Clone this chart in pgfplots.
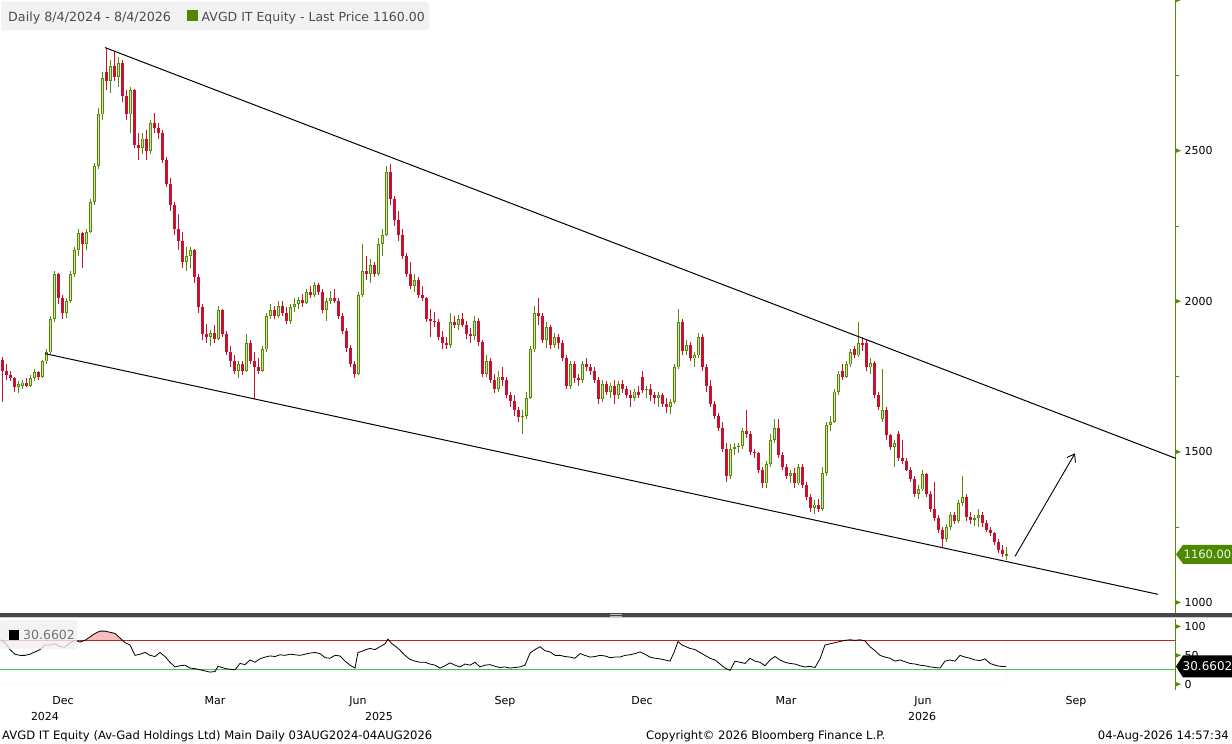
\documentclass[border=0pt]{standalone}
\usepackage{pgfplots}
\pgfplotsset{compat=1.18}
\usepackage{pgfplotstable}
\usepackage{fontspec}
\setmainfont{DejaVu Sans}
\usetikzlibrary{arrows.meta}
\definecolor{bbgreen}{RGB}{88,140,0}
\definecolor{bbred}{RGB}{196,18,48}
\definecolor{tagg}{RGB}{78,136,0}
\definecolor{rsired}{RGB}{200,30,30}
\definecolor{rsigreen}{RGB}{76,196,70}
\definecolor{bbpink}{RGB}{247,190,190}
\pgfplotstableread{
x o h l c
2 1805 1815 1665 1770
6 1770 1790 1740 1755
10 1755 1770 1735 1745
14 1745 1750 1700 1715
18 1715 1735 1695 1725
22 1720 1740 1710 1730
26 1730 1745 1715 1720
30 1720 1755 1715 1745
34 1745 1775 1735 1765
38 1765 1770 1740 1750
42 1750 1805 1745 1800
46 1800 1840 1790 1830
50 1830 1950 1825 1940
54 1940 2100 1930 2090
58 2090 2095 1990 2010
62 2010 2020 1940 1960
66 1960 2010 1945 2000
70 2000 2100 1995 2090
74 2090 2180 2080 2170
78 2170 2240 2150 2225
82 2225 2230 2110 2190
86 2190 2240 2170 2230
90 2230 2340 2225 2330
94 2330 2460 2320 2450
98 2450 2640 2440 2620
102 2620 2760 2600 2740
106 2760 2840 2700 2730
110 2730 2800 2690 2780
114 2780 2830 2730 2745
118 2745 2810 2710 2790
122 2790 2800 2660 2680
126 2680 2700 2600 2620
130 2620 2710 2560 2700
134 2700 2705 2510 2520
138 2520 2560 2470 2510
142 2510 2560 2490 2540
146 2540 2570 2470 2500
150 2500 2600 2490 2590
154 2590 2625 2560 2575
158 2575 2590 2540 2560
162 2560 2570 2460 2470
166 2470 2480 2380 2390
170 2390 2410 2300 2320
174 2320 2330 2220 2240
178 2240 2290 2170 2200
182 2200 2230 2110 2130
186 2130 2180 2100 2150
190 2150 2180 2110 2170
194 2170 2175 2060 2080
198 2080 2090 1960 1980
202 1980 1990 1870 1890
206 1890 1925 1860 1880
210 1880 1905 1850 1895
214 1895 1920 1860 1875
218 1875 1985 1870 1970
222 1970 1975 1880 1890
226 1890 1900 1820 1830
230 1830 1850 1780 1800
234 1800 1820 1760 1770
238 1770 1800 1745 1790
242 1790 1800 1755 1770
246 1770 1890 1765 1860
250 1860 1870 1790 1800
254 1800 1830 1675 1780
258 1780 1810 1760 1770
262 1770 1850 1765 1840
266 1840 1960 1830 1950
270 1950 1990 1940 1970
274 1970 1985 1940 1950
278 1950 2000 1945 1985
282 1985 2000 1950 1960
286 1960 1980 1925 1935
290 1935 1990 1925 1980
294 1980 2010 1965 1990
298 1990 2015 1975 2005
302 2005 2025 1980 1995
306 1995 2040 1990 2030
310 2030 2050 2010 2020
314 2020 2065 2015 2055
318 2055 2060 2020 2030
322 2030 2040 1960 1970
326 1970 2010 1935 2000
330 2000 2035 1990 2010
334 2010 2040 1995 2000
338 2000 2010 1940 1950
342 1950 1960 1890 1900
346 1900 1910 1830 1845
350 1845 1855 1780 1790
354 1790 1800 1745 1760
358 1760 2030 1755 2020
362 2020 2190 2015 2100
366 2100 2150 2070 2090
370 2090 2140 2060 2120
374 2120 2130 2080 2090
378 2090 2210 2085 2190
382 2190 2240 2150 2220
386 2220 2450 2215 2430
390 2430 2455 2320 2340
394 2340 2350 2250 2270
398 2270 2300 2200 2220
402 2220 2240 2140 2150
406 2150 2160 2080 2090
410 2090 2130 2040 2050
414 2050 2090 2030 2070
418 2070 2080 2010 2020
422 2020 2050 2000 2010
426 2010 2015 1930 1940
430 1940 1975 1880 1935
434 1935 1965 1915 1930
438 1930 1940 1870 1880
442 1880 1900 1840 1860
446 1860 1880 1840 1855
450 1855 1960 1845 1930
454 1930 1950 1910 1920
458 1920 1955 1905 1940
462 1940 1960 1915 1920
466 1920 1935 1875 1890
470 1890 1910 1860 1885
474 1885 1950 1870 1935
478 1935 1945 1850 1865
482 1865 1870 1750 1760
486 1760 1820 1750 1800
490 1800 1810 1730 1740
494 1740 1760 1695 1710
498 1710 1770 1700 1750
502 1750 1780 1720 1740
506 1740 1750 1680 1690
510 1690 1700 1650 1670
514 1670 1690 1620 1640
518 1640 1650 1600 1615
522 1615 1640 1560 1620
526 1620 1700 1610 1680
530 1680 1850 1675 1840
534 1840 1985 1830 1960
538 1960 2010 1920 1950
542 1950 1960 1860 1870
546 1870 1930 1845 1915
550 1915 1920 1840 1855
554 1855 1895 1845 1880
558 1880 1890 1840 1860
562 1860 1870 1800 1810
566 1810 1820 1710 1720
570 1720 1800 1710 1790
574 1790 1800 1730 1745
578 1745 1760 1720 1740
582 1740 1800 1730 1790
586 1790 1810 1770 1780
590 1780 1790 1755 1770
594 1770 1780 1730 1740
598 1740 1750 1660 1675
602 1675 1740 1665 1725
606 1725 1735 1690 1700
610 1700 1730 1680 1720
614 1720 1740 1660 1690
618 1690 1735 1675 1725
622 1725 1740 1695 1710
626 1710 1720 1680 1690
630 1690 1705 1650 1680
634 1680 1710 1670 1700
638 1700 1720 1680 1690
642 1750 1770 1695 1705
646 1705 1720 1680 1710
650 1710 1725 1670 1690
654 1690 1700 1660 1680
658 1680 1700 1650 1690
662 1690 1695 1650 1660
666 1660 1680 1630 1650
670 1650 1675 1625 1665
674 1665 1790 1660 1780
678 1780 1975 1775 1930
682 1930 1940 1820 1835
686 1835 1870 1820 1855
690 1855 1865 1800 1810
694 1810 1830 1780 1820
698 1820 1895 1810 1880
702 1880 1890 1770 1780
706 1780 1790 1700 1720
710 1720 1740 1650 1660
714 1660 1670 1610 1620
718 1620 1630 1570 1580
722 1580 1600 1500 1510
726 1510 1530 1400 1420
730 1420 1525 1410 1510
734 1510 1530 1490 1515
738 1515 1530 1495 1520
742 1520 1580 1510 1570
746 1570 1640 1545 1560
750 1560 1570 1490 1500
754 1500 1510 1480 1495
758 1495 1500 1430 1440
762 1440 1450 1380 1395
766 1395 1470 1380 1460
770 1460 1560 1450 1540
774 1540 1610 1530 1580
778 1580 1610 1480 1490
782 1490 1500 1440 1450
786 1450 1460 1410 1420
790 1420 1440 1395 1430
794 1430 1445 1380 1395
798 1395 1460 1390 1450
802 1450 1460 1380 1390
806 1390 1400 1340 1350
810 1350 1360 1300 1315
814 1315 1340 1295 1325
818 1325 1345 1300 1310
822 1310 1450 1305 1430
826 1430 1600 1420 1590
830 1590 1620 1570 1600
834 1600 1710 1595 1700
838 1700 1770 1690 1760
842 1770 1790 1740 1750
846 1750 1800 1745 1790
850 1790 1840 1780 1830
854 1840 1850 1810 1820
858 1820 1930 1815 1860
862 1860 1880 1835 1855
866 1860 1870 1770 1780
870 1780 1810 1760 1795
874 1795 1800 1680 1690
878 1690 1700 1640 1650
882 1610 1775 1600 1640
886 1640 1650 1540 1555
890 1555 1560 1505 1515
894 1515 1540 1450 1530
898 1560 1570 1470 1480
902 1480 1540 1460 1470
906 1470 1480 1435 1440
910 1440 1450 1400 1410
914 1410 1420 1350 1360
918 1360 1390 1345 1375
922 1375 1440 1370 1425
926 1425 1430 1350 1360
930 1360 1370 1300 1310
934 1310 1400 1270 1280
938 1280 1290 1230 1240
942 1240 1250 1185 1210
946 1210 1260 1200 1250
950 1250 1300 1240 1290
954 1290 1300 1260 1270
958 1270 1340 1265 1330
962 1330 1420 1320 1350
966 1350 1360 1270 1285
970 1285 1300 1260 1275
974 1275 1290 1255 1280
978 1280 1310 1250 1290
982 1290 1300 1250 1265
986 1265 1275 1235 1240
990 1240 1250 1220 1230
994 1230 1235 1190 1200
998 1200 1210 1165 1175
1002 1175 1190 1150 1160
1006 1155 1185 1140 1160
}\candles
\pgfplotstableread{
x r
0 77
5 72
10 60
15 52
20 50
25 50
30 52
35 56
40 60
45 68
50 68
55 70
60 65
65 64
70 72
75 76
80 73
85 76
90 82
95 88
100 92
105 92
110 90
115 88
120 80
125 72
130 68
135 50
140 52
145 55
150 50
155 48
160 55
165 48
170 38
175 30
180 32
185 33
190 28
195 27
200 25
205 23
210 21
215 22
218 31
222 29
226 27
230 26
235 25
240 36
245 34
250 42
255 38
260 44
265 47
270 49
275 48
280 51
285 50
290 52
295 51
300 50
305 52
310 54
315 55
320 53
325 46
330 45
335 50
340 49
345 40
350 33
355 28
358 55
362 57
366 60
370 62
375 60
380 65
385 70
388 78
392 70
396 65
400 59
405 50
410 43
415 40
420 38
425 38
430 35
435 33
440 28
445 32
450 37
455 33
460 30
465 35
470 33
475 38
480 30
485 33
490 34
495 31
500 29
505 30
510 28
515 29
520 30
525 33
530 54
535 60
540 65
545 58
550 56
555 50
560 50
565 48
570 47
575 45
580 53
585 50
590 47
595 48
600 50
605 49
610 46
615 47
620 47
625 50
630 51
635 53
640 56
645 52
650 47
655 45
660 44
665 42
670 40
674 55
678 74
682 68
686 65
690 62
695 60
700 55
705 50
710 45
715 42
720 35
725 28
730 24
735 40
740 38
745 36
750 45
755 40
760 38
765 32
770 42
775 48
780 42
785 38
790 36
795 35
800 32
805 30
810 31
815 29
820 44
825 68
830 70
835 72
840 74
845 76
850 77
855 76
860 77
865 75
870 65
875 58
880 50
885 47
890 45
895 40
900 42
905 39
910 36
915 35
920 33
925 32
930 30
935 29
940 28
945 40
950 42
955 40
960 50
965 47
970 45
975 42
980 41
985 44
990 36
995 33
1000 31
1006 30.66
}\rsi
\begin{document}
\begin{tikzpicture}
\path[use as bounding box] (0pt,0pt) rectangle (1232pt,744pt);
% ---------------- price panel
\begin{axis}[
  at={(0pt,131pt)}, anchor=south west, width=1175pt, height=613pt, scale only axis,
  xmin=0, xmax=1175, ymin=965, ymax=3000,
  axis x line=none, axis y line*=right,
  y axis line style={-, draw=bbgreen, line width=0.9pt},
  ytick={1000,1500,2000,2500}, yticklabels={1000,1500,2000,2500},
  minor ytick={1250,1750,2250,2750},
  major tick length=0pt, minor tick length=4pt, tick align=outside,
  ytick style={draw=bbgreen, line width=0.8pt},
  yticklabel style={font=\fontsize{11}{13}\selectfont, anchor=west, xshift=6pt},
  clip=false,
]
\addplot[draw=none, mark=none, error bars/.cd, y dir=plus, y explicit, error mark=none,
  error bar style={draw=bbgreen, line width=0.9pt}]
  table[x=x, y expr={\thisrow{c}>=\thisrow{o} ? \thisrow{l} : nan}, y error expr={\thisrow{h}-\thisrow{l}}] {\candles};
\addplot[draw=none, mark=none, error bars/.cd, y dir=plus, y explicit, error mark=none,
  error bar style={draw=bbgreen, line width=3pt}]
  table[x=x, y expr={\thisrow{c}>=\thisrow{o} ? \thisrow{o} : nan}, y error expr={\thisrow{c}-\thisrow{o}}] {\candles};
\addplot[draw=none, mark=none, error bars/.cd, y dir=plus, y explicit, error mark=none,
  error bar style={draw=bbgreen!28!white, line width=0.9pt}]
  table[x=x, y expr={\thisrow{c}-\thisrow{o}>8 ? \thisrow{o}+3 : nan}, y error expr={\thisrow{c}-\thisrow{o}-6}] {\candles};
\addplot[draw=none, mark=none, error bars/.cd, y dir=plus, y explicit, error mark=none,
  error bar style={draw=bbred, line width=0.9pt}]
  table[x=x, y expr={\thisrow{c}<\thisrow{o} ? \thisrow{l} : nan}, y error expr={\thisrow{h}-\thisrow{l}}] {\candles};
\addplot[draw=none, mark=none, error bars/.cd, y dir=plus, y explicit, error mark=none,
  error bar style={draw=bbred, line width=3pt}]
  table[x=x, y expr={\thisrow{c}<\thisrow{o} ? \thisrow{c} : nan}, y error expr={\thisrow{o}-\thisrow{c}}] {\candles};
% trend lines and arrow
\draw[black, line width=1pt] (axis cs:105,2842) -- (axis cs:1176,1478);
\draw[black, line width=1pt] (axis cs:45,1826) -- (axis cs:1158,1027);
\draw[black, line width=0.9pt, -{Straight Barb[length=7pt,width=10pt]}] (axis cs:1015,1153) -- (axis cs:1075,1495);
% tick triangles
\fill[bbgreen] (axis cs:1175,1000) ++(0pt,2.6pt) -- ++(6pt,-2.6pt) -- ++(-6pt,-2.6pt) -- cycle;
\fill[bbgreen] (axis cs:1175,1500) ++(0pt,2.6pt) -- ++(6pt,-2.6pt) -- ++(-6pt,-2.6pt) -- cycle;
\fill[bbgreen] (axis cs:1175,2000) ++(0pt,2.6pt) -- ++(6pt,-2.6pt) -- ++(-6pt,-2.6pt) -- cycle;
\fill[bbgreen] (axis cs:1175,2500) ++(0pt,2.6pt) -- ++(6pt,-2.6pt) -- ++(-6pt,-2.6pt) -- cycle;
\fill[bbgreen] (axis cs:1175,3000) -- ++(6pt,0pt) -- ++(-6pt,-2.6pt) -- cycle;
\end{axis}
% ---------------- RSI panel
\begin{axis}[
  at={(0pt,54pt)}, anchor=south west, width=1175pt, height=71pt, scale only axis,
  xmin=0, xmax=1175, ymin=-10, ymax=113,
  axis x line*=bottom, axis y line*=right,
  x axis line style={draw=none},
  y axis line style={-, draw=bbgreen, line width=0.9pt},
  xtick={63,215,358,505,642,786,923,1076},
  xticklabels={Dec,Mar,Jun,Sep,Dec,Mar,Jun,Sep},
  extra x ticks={45,379,922}, extra x tick labels={2024,2025,2026},
  extra x tick style={tick label style={yshift=-16pt}},
  xtick style={draw=none},
  xticklabel style={font=\fontsize{11}{13}\selectfont, yshift=-3pt},
  ytick={0,50,100}, yticklabels={0,50,100},
  major tick length=0pt,
  ytick style={draw=none},
  yticklabel style={font=\fontsize{11}{13}\selectfont, anchor=west, xshift=6pt},
  clip=false,
]
\addplot[fill=bbpink, draw=none, forget plot] table[x=x, y expr={max(\thisrow{r},75)}] {\rsi} \closedcycle;
\addplot[fill=white, draw=none, forget plot] coordinates {(0,75) (1006,75)} \closedcycle;
\draw[rsired, line width=1pt] (axis cs:0,75) -- (axis cs:1175,75);
\draw[rsigreen, line width=1.1pt] (axis cs:0,25) -- (axis cs:1175,25);
\addplot[black, line width=0.8pt, mark=none] table[x=x, y=r] {\rsi};
\fill[bbgreen] (axis cs:1175,0) ++(0pt,2.6pt) -- ++(6pt,-2.6pt) -- ++(-6pt,-2.6pt) -- cycle;
\fill[bbgreen] (axis cs:1175,50) ++(0pt,2.6pt) -- ++(6pt,-2.6pt) -- ++(-6pt,-2.6pt) -- cycle;
\fill[bbgreen] (axis cs:1175,100) ++(0pt,2.6pt) -- ++(6pt,-2.6pt) -- ++(-6pt,-2.6pt) -- cycle;
\end{axis}
% separator
\fill[black!72] (0pt,127pt) rectangle (1232pt,130.6pt);
\draw[gray!40, line width=0.8pt] (0pt,126.2pt) -- (1232pt,126.2pt);
\draw[gray!55, line width=0.6pt] (610pt,129.6pt) -- (622pt,129.6pt);
\draw[gray!55, line width=0.6pt] (610pt,128.0pt) -- (622pt,128.0pt);
% top legend
\fill[gray!10, rounded corners=3pt] (1pt,713.5pt) rectangle (429pt,742.5pt);
\node[anchor=base west, inner sep=0pt, text=black!70, font=\fontsize{12.7}{15}\selectfont] at (8pt,722pt) {Daily 8/4/2024 - 8/4/2026};
\fill[tagg] (186.5pt,722.5pt) rectangle (197.5pt,733.5pt);
\node[anchor=base west, inner sep=0pt, text=black!70, font=\fontsize{12.5}{15}\selectfont] at (201.5pt,722pt) {AVGD IT Equity - Last Price 1160.00};
% RSI legend
\fill[gray!12, opacity=0.8, rounded corners=2pt] (0pt,95pt) rectangle (77pt,124pt);
\fill[black] (9pt,103.5pt) rectangle (19pt,114pt);
\node[anchor=base west, inner sep=0pt, text=black!55, font=\fontsize{12.5}{15}\selectfont] at (23pt,104pt) {30.6602};
% price tag
\fill[tagg] (1176pt,189.7pt) -- (1183pt,199.2pt) -- (1232pt,199.2pt) -- (1232pt,180.2pt) -- (1183pt,180.2pt) -- cycle;
\node[anchor=center, inner sep=0pt, text=green!8!white, font=\fontsize{11.5}{13}\selectfont] at (1207.5pt,189.7pt) {1160.00};
% RSI tag
\fill[black] (1176pt,77.5pt) -- (1183pt,88.5pt) -- (1232pt,88.5pt) -- (1232pt,66.5pt) -- (1183pt,66.5pt) -- cycle;
\node[anchor=center, inner sep=0pt, text=white, font=\fontsize{12}{14}\selectfont] at (1207.5pt,77.5pt) {30.6602};
% footer
\node[anchor=base west, inner sep=0pt, font=\fontsize{11.6}{13}\selectfont] at (2pt,4pt) {AVGD IT Equity (Av-Gad Holdings Ltd) Main Daily 03AUG2024-04AUG2026};
\node[anchor=base west, inner sep=0pt, font=\fontsize{11.6}{13}\selectfont] at (646pt,4pt) {Copyright© 2026 Bloomberg Finance L.P.};
\node[anchor=base east, inner sep=0pt, font=\fontsize{11.6}{13}\selectfont] at (1229pt,4pt) {04-Aug-2026 14:57:34};
\end{tikzpicture}
\end{document}
